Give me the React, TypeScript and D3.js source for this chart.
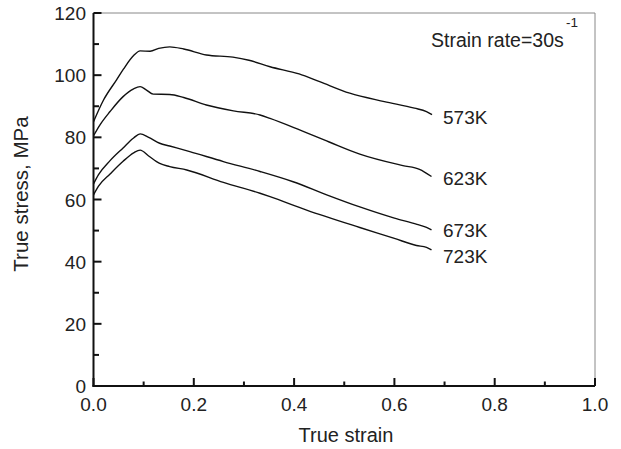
import React from "react";
import * as d3 from "d3";

const xTicks = [0, 0.2, 0.4, 0.6, 0.8, 1.0];
const xMinor = [0.1, 0.3, 0.5, 0.7, 0.9];
const yTicks = [0, 20, 40, 60, 80, 100, 120];
const yMinor = [10, 30, 50, 70, 90, 110];

const s573: [number, number][] = [[0,85],[0.02,92],[0.046,98.5],[0.06,102],[0.08,106.3],[0.093,107.8],[0.113,107.7],[0.13,108.6],[0.152,109.1],[0.18,108.4],[0.225,106.5],[0.278,105.8],[0.31,104.8],[0.352,102.7],[0.41,100.4],[0.451,97.9],[0.511,94.2],[0.58,91.5],[0.64,89.4],[0.664,88.3],[0.675,87.3]];
const s623: [number, number][] = [[0,80.5],[0.012,83.8],[0.033,88.3],[0.059,93.1],[0.08,95.6],[0.093,96.3],[0.105,95.3],[0.119,93.9],[0.152,93.8],[0.18,92.8],[0.225,90.4],[0.279,88.5],[0.332,87.2],[0.352,86.1],[0.411,82.4],[0.47,78.5],[0.531,74.6],[0.617,70.9],[0.65,69.7],[0.674,67.4]];
const s673: [number, number][] = [[0,65],[0.01,68],[0.033,72.5],[0.059,76.6],[0.08,79.8],[0.093,81.1],[0.11,80],[0.132,78.1],[0.152,77.2],[0.192,75.4],[0.259,72.2],[0.332,69],[0.398,65.7],[0.465,61.5],[0.531,57.6],[0.6,54],[0.645,52],[0.664,51],[0.674,50.2]];
const s723: [number, number][] = [[0,61.5],[0.01,64.3],[0.033,68.2],[0.059,72.3],[0.08,75],[0.093,75.9],[0.11,74],[0.132,71.6],[0.152,70.6],[0.186,69.5],[0.259,65.5],[0.332,62],[0.352,60.9],[0.425,56.6],[0.531,51],[0.6,47.5],[0.644,45.2],[0.664,44.6],[0.674,43.8]];

const seriesData = [s573, s623, s673, s723];
const seriesLabels = ["573K", "623K", "673K", "723K"];
const labelY = [117, 178, 230, 256];

export default function App() {
  const x = d3.scaleLinear().domain([0, 1]).range([93.5, 595]);
  const y = d3.scaleLinear().domain([0, 120]).range([386, 13]);
  const line = d3
    .line<[number, number]>()
    .x((d) => x(d[0]))
    .y((d) => y(d[1]))
    .curve(d3.curveMonotoneX);
  const font = "'Liberation Sans', Arial, sans-serif";
  const txt = "#222";
  return (
    <svg width={621} height={449} style={{ position: "absolute", left: 0, top: 0 }} fontFamily={font}>
      <rect x={0} y={0} width={621} height={449} fill="#fff" />
      <line x1={x(0)} x2={x(1)} y1={y(120)} y2={y(120)} stroke="#888" strokeWidth={1} />
      <line x1={x(1)} x2={x(1)} y1={y(120)} y2={y(0)} stroke="#888" strokeWidth={1} />
      <line x1={x(0)} x2={x(0)} y1={y(120)} y2={y(0) + 1} stroke="#111" strokeWidth={2} />
      <line x1={x(0) - 1} x2={x(1)} y1={y(0)} y2={y(0)} stroke="#111" strokeWidth={2} />
      {xTicks.map((t) => (
        <g key={"xt" + t}>
          <line x1={x(t)} x2={x(t)} y1={y(0)} y2={y(0) - 8} stroke="#111" strokeWidth={2} />
          <text x={x(t)} y={411} textAnchor="middle" fontSize={19} fill={txt}>
            {t.toFixed(1)}
          </text>
        </g>
      ))}
      {xMinor.map((t) => (
        <line key={"xm" + t} x1={x(t)} x2={x(t)} y1={y(0)} y2={y(0) - 4.5} stroke="#111" strokeWidth={2} />
      ))}
      {yTicks.map((t) => (
        <g key={"yt" + t}>
          <line x1={x(0)} x2={x(0) + 8} y1={y(t)} y2={y(t)} stroke="#111" strokeWidth={2} />
          <text x={86} y={y(t) + 7} textAnchor="end" fontSize={19} fill={txt}>
            {t}
          </text>
        </g>
      ))}
      {yMinor.map((t) => (
        <line key={"ym" + t} x1={x(0)} x2={x(0) + 5.5} y1={y(t)} y2={y(t)} stroke="#111" strokeWidth={2} />
      ))}
      {seriesData.map((s, i) => (
        <path key={"s" + i} d={line(s) || ""} fill="none" stroke="#111" strokeWidth={1.4} />
      ))}
      {seriesLabels.map((l, i) => (
        <text key={"l" + i} x={443} y={labelY[i] + 7} fontSize={19} fill={txt}>
          {l}
        </text>
      ))}
      <text x={431} y={46.5} fontSize={19.5} fill={txt}>
        Strain rate=30s
      </text>
      <text x={566} y={27} fontSize={13.5} fill={txt}>
        -1
      </text>
      <text x={346} y={442} textAnchor="middle" fontSize={20} fill={txt}>
        True strain
      </text>
      <text
        transform={`translate(27.5,194) rotate(-90)`}
        textAnchor="middle"
        fontSize={20.5}
        fill={txt}
      >
        True stress, MPa
      </text>
    </svg>
  );
}
